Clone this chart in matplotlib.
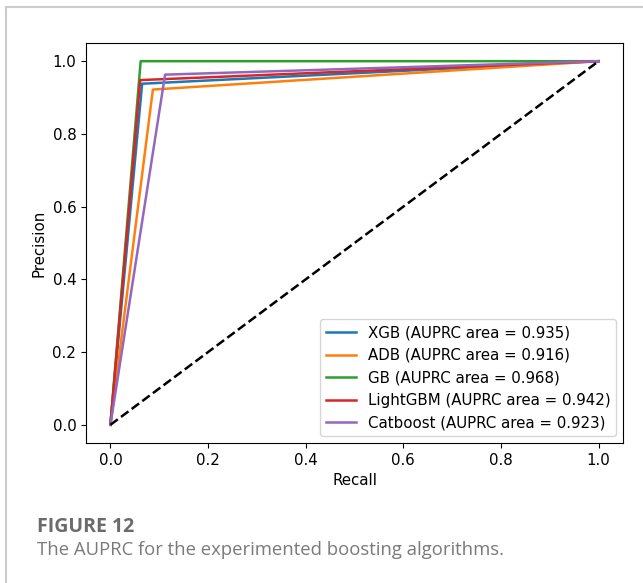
import matplotlib
matplotlib.use("Agg")
import matplotlib.pyplot as plt
from matplotlib.lines import Line2D

# precision-recall points: (0,0) -> corner -> (1,1)
models = ["XGB", "ADB", "GB", "LightGBM", "Catboost"]
auprc = [0.935, 0.916, 0.968, 0.942, 0.923]
recall = [
    [0.0, 0.065, 1.0],
    [0.0, 0.087, 1.0],
    [0.0, 0.062, 1.0],
    [0.0, 0.061, 1.0],
    [0.0, 0.112, 1.0],
]
precision = [
    [0.0, 0.938, 1.0],
    [0.0, 0.922, 1.0],
    [0.0, 1.0, 1.0],
    [0.0, 0.948, 1.0],
    [0.0, 0.963, 1.0],
]
ticks = [0.0, 0.2, 0.4, 0.6, 0.8, 1.0]

plt.rcParams["font.size"] = 10.8

fig = plt.figure(figsize=(6.43, 5.83), dpi=100)
ax = fig.add_axes([86 / 643, 1 - 443 / 583, (623 - 86) / 643, (443 - 43) / 583])

for name, area, r, p in zip(models, auprc, recall, precision):
    ax.plot(r, p, lw=1.8, label=f"{name} (AUPRC area = {area})")
ax.plot([0, 1], [0, 1], "k--", lw=1.8)

ax.set_xticks(ticks)
ax.set_yticks(ticks)
ax.set_xlabel("Recall")
ax.set_ylabel("Precision")
ax.legend(loc="lower right", borderaxespad=0.45)

# card frame (top and left edges) and caption
fig.add_artist(Line2D([6 / 643, 1], [1 - 7 / 583, 1 - 7 / 583], color="#cccccc", lw=1.5))
fig.add_artist(Line2D([6 / 643, 6 / 643], [0, 1 - 7 / 583], color="#cccccc", lw=1.5))
fig.text(37 / 643, 1 - 532 / 583, "FIGURE 12", fontsize=14, fontweight="bold",
         color="#6b6b6b", family="Open Sans")
fig.text(37 / 643, 1 - 555 / 583, "The AUPRC for the experimented boosting algorithms.",
         fontsize=13.3, color="#7a7a7a", family="Open Sans")

fig.savefig("out.png", dpi=100)
